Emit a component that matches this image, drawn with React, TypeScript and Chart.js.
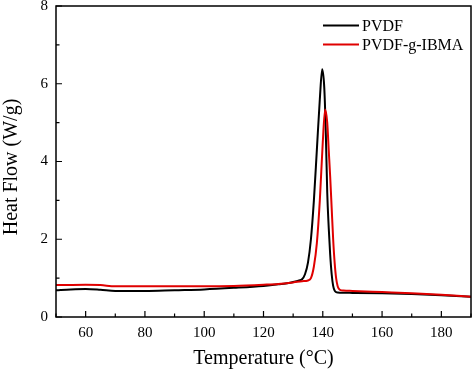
import React, { useEffect, useRef } from "react";
import { Chart, registerables } from "chart.js";

Chart.register(...registerables);

const pvdfT = [50, 55, 60, 65, 70, 80, 90, 100, 110, 120, 125, 128, 130, 132, 133, 134, 135, 136, 137, 138, 139, 139.8, 140.5, 141, 141.5, 142, 142.5, 143, 143.5, 144, 144.5, 145, 150, 160, 170, 180, 190];
const pvdfHF = [0.69, 0.71, 0.72, 0.7, 0.67, 0.67, 0.69, 0.71, 0.75, 0.8, 0.84, 0.87, 0.9, 0.94, 0.97, 1.1, 1.4, 2.0, 3.0, 4.3, 5.6, 6.37, 5.9, 4.8, 3.2, 2.3, 1.6, 1.1, 0.8, 0.68, 0.64, 0.63, 0.62, 0.61, 0.59, 0.56, 0.52];

const ibmaT = [50, 60, 65, 70, 80, 90, 100, 110, 120, 125, 130, 133, 135, 136, 137, 138, 139, 140, 140.8, 141.5, 142, 142.5, 143, 143.5, 144, 144.5, 145, 145.5, 146, 147, 150, 160, 170, 180, 190];
const ibmaHF = [0.82, 0.83, 0.82, 0.79, 0.79, 0.79, 0.79, 0.8, 0.83, 0.85, 0.89, 0.92, 0.94, 1.0, 1.3, 1.9, 3.0, 4.5, 5.34, 5.0, 4.3, 3.6, 2.8, 2.0, 1.4, 1.0, 0.8, 0.72, 0.69, 0.68, 0.67, 0.64, 0.61, 0.57, 0.52];

const xTickValues = [60, 80, 100, 120, 140, 160, 180];
const yTickValues = [0, 2, 4, 6, 8];
const seriesNames = ["PVDF", "PVDF-g-IBMA"];
const seriesColors = ["#000000", "#e00000"];
const xTitle = "Temperature (°C)";
const yTitle = "Heat Flow (W/g)";

const FONT = '"Liberation Serif", "Times New Roman", serif';

const boxPlugin = {
  id: "boxTicks",
  afterDraw(chart: any) {
    const { ctx, chartArea } = chart;
    const xs = chart.scales.x;
    const ys = chart.scales.y;
    ctx.save();
    ctx.strokeStyle = "#000";
    ctx.lineWidth = 1.5;
    ctx.strokeRect(chartArea.left, chartArea.top, chartArea.right - chartArea.left, chartArea.bottom - chartArea.top);
    ctx.lineWidth = 1.2;
    ctx.beginPath();
    for (let v = xs.min; v <= xs.max; v += 10) {
      const px = xs.getPixelForValue(v);
      const major = v % 20 === 0;
      const len = major ? 6 : 3.5;
      ctx.moveTo(px, chartArea.bottom);
      ctx.lineTo(px, chartArea.bottom - len);
    }
    for (let v = ys.min; v <= ys.max; v += 1) {
      const py = ys.getPixelForValue(v);
      const major = v % 2 === 0;
      const len = major ? 6 : 3.5;
      ctx.moveTo(chartArea.left, py);
      ctx.lineTo(chartArea.left + len, py);
    }
    ctx.stroke();
    // y title
    ctx.save();
    ctx.translate(12, 167);
    ctx.rotate(-Math.PI / 2);
    ctx.font = `20px ${FONT}`;
    ctx.textAlign = "center";
    ctx.textBaseline = "middle";
    ctx.fillStyle = "#000";
    ctx.fillText(yTitle, 0, 0);
    ctx.restore();
    // legend
    ctx.font = `16px ${FONT}`;
    ctx.textBaseline = "middle";
    ctx.textAlign = "left";
    ctx.fillStyle = "#000";
    const lx0 = 323;
    const lx1 = 359;
    const rows = [25.5, 44.5];
    seriesNames.forEach((name, i) => {
      ctx.strokeStyle = seriesColors[i];
      ctx.lineWidth = 2;
      ctx.beginPath();
      ctx.moveTo(lx0, rows[i]);
      ctx.lineTo(lx1, rows[i]);
      ctx.stroke();
      ctx.fillText(name, 362, rows[i] + 1);
    });
    ctx.restore();
  },
};

export default function App() {
  const ref = useRef<HTMLCanvasElement | null>(null);
  useEffect(() => {
    document.body.style.margin = "0";
    const canvas = ref.current!;
    const chart = new Chart(canvas, {
      type: "line",
      data: {
        datasets: [
          {
            label: seriesNames[0],
            data: pvdfT.map((t, i) => ({ x: t, y: pvdfHF[i] })),
            borderColor: seriesColors[0],
            borderWidth: 2,
            pointRadius: 0,
            cubicInterpolationMode: "monotone",
            order: 1,
          },
          {
            label: seriesNames[1],
            data: ibmaT.map((t, i) => ({ x: t, y: ibmaHF[i] })),
            borderColor: seriesColors[1],
            borderWidth: 2,
            pointRadius: 0,
            cubicInterpolationMode: "monotone",
            order: 0,
          },
        ],
      },
      options: {
        animation: false,
        responsive: false,
        maintainAspectRatio: false,
        devicePixelRatio: 1,
        layout: { padding: { top: 6, right: 3, left: 0, bottom: 0 } },
        plugins: { legend: { display: false }, tooltip: { enabled: false } },
        scales: {
          x: {
            type: "linear",
            min: 50,
            max: 190,
            afterBuildTicks: (s: any) => {
              s.ticks = xTickValues.map((v) => ({ value: v }));
            },
            afterFit: (s: any) => {
              s.height = 54;
              s.paddingLeft = 0;
              s.paddingRight = 0;
            },
            grid: { display: false, drawTicks: false },
            border: { display: false },
            ticks: { color: "#000", font: { family: FONT, size: 15 }, padding: 7, maxRotation: 0 },
            title: {
              display: true,
              text: xTitle,
              color: "#000",
              font: { family: FONT, size: 20 },
              padding: { top: 0, bottom: 0 },
            },
          },
          y: {
            type: "linear",
            min: 0,
            max: 8,
            afterBuildTicks: (s: any) => {
              s.ticks = yTickValues.map((v) => ({ value: v }));
            },
            afterFit: (s: any) => {
              s.width = 56;
              s.paddingTop = 0;
              s.paddingBottom = 0;
            },
            grid: { display: false, drawTicks: false },
            border: { display: false },
            ticks: { color: "#000", font: { family: FONT, size: 15 }, padding: 8 },
            title: { display: false },
          },
        },
      },
      plugins: [boxPlugin],
    });
    return () => chart.destroy();
  }, []);
  return <canvas ref={ref} width={474} height={371} style={{ display: "block" }} />;
}
